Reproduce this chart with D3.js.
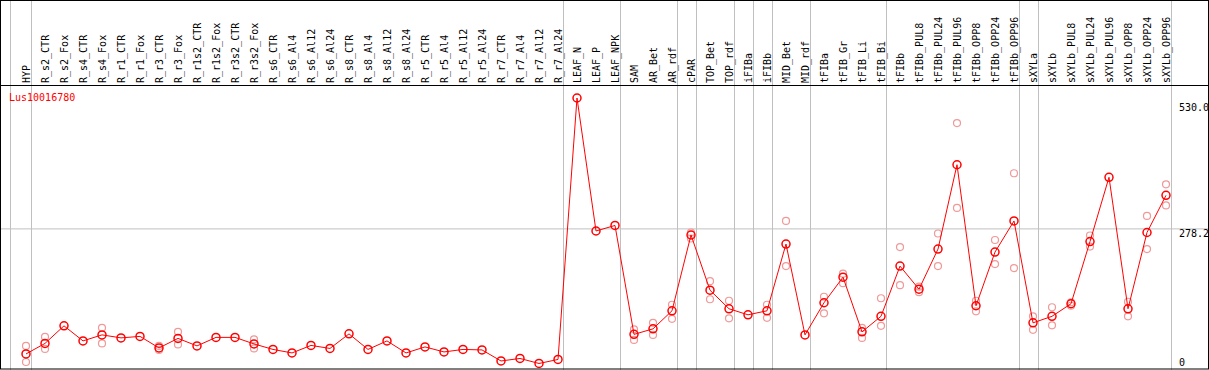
<!DOCTYPE html>
<html>
<head>
<meta charset="utf-8">
<script src="https://cdn.jsdelivr.net/npm/d3@7"></script>
<style>
  body { margin: 0; background: #fff; }
  text { font-family: "DejaVu Sans Mono", monospace; font-size: 10px; }
</style>
</head>
<body>
<script>
// sample names along the top
var categories = ["HYP","R_s2_CTR","R_s2_Fox","R_s4_CTR","R_s4_Fox","R_r1_CTR","R_r1_Fox","R_r3_CTR","R_r3_Fox",
  "R_r1s2_CTR","R_r1s2_Fox","R_r3s2_CTR","R_r3s2_Fox","R_s6_CTR","R_s6_Al4","R_s6_Al12","R_s6_Al24",
  "R_s8_CTR","R_s8_Al4","R_s8_Al12","R_s8_Al24","R_r5_CTR","R_r5_Al4","R_r5_Al12","R_r5_Al24",
  "R_r7_CTR","R_r7_Al4","R_r7_Al12","R_r7_Al24","LEAF_N","LEAF_P","LEAF_NPK","SAM","AR_Bet","AR_rdf",
  "cPAR","TOP_Bet","TOP_rdf","iFIBa","iFIBb","MID_Bet","MID_rdf","tFIBa","tFIB_Gr","tFIB_Li","tFIB_Bi",
  "tFIBb","tFIBb_PUL8","tFIBb_PUL24","tFIBb_PUL96","tFIBb_OPP8","tFIBb_OPP24","tFIBb_OPP96",
  "sXYLa","sXYLb","sXYLb_PUL8","sXYLb_PUL24","sXYLb_PUL96","sXYLb_OPP8","sXYLb_OPP24","sXYLb_OPP96"];

// mean expression
var means = [28,49,84,54,66,60,63,40,59,44,61,61,48,37,30,45,39,68,37,54,30,42,32,37,36,14,19,9,17,
  538,273,284,67,78,114,265,155,118,106,114,247,66,130,181,72,103,203,157,237,405,124,231,293,
  90,103,128,252,380,118,270,344];

// replicates (null = hidden behind mean)
var repA = [44,62,null,null,80,null,null,44,72,null,null,null,57,null,null,null,null,null,null,null,null,null,null,null,null,null,null,null,null,
  null,null,null,77,90,126,270,173,134,null,126,293,null,142,188,80,139,241,162,268,488,134,255,388,
  103,121,124,264,null,132,303,366];
var repB = [12,38,null,null,49,null,null,36,47,null,null,null,39,null,null,null,null,null,null,null,null,null,null,null,null,null,null,null,null,
  null,null,null,56,66,98,258,137,99,null,100,203,null,109,169,60,84,165,151,203,319,113,207,199,
  76,85,131,242,null,103,237,324];

var gridValue = 278.2;
var axisTicks = ["530.0","278.2","0"];
var tickValues = [530, 278.2, 0];
// vertical separators are drawn after these samples
var groupEnds = ["HYP","R_r7_Al24","LEAF_NPK","AR_rdf","cPAR","TOP_rdf","iFIBa","iFIBb","MID_rdf","tFIB_Bi","tFIBb_OPP96","sXYLa","sXYLb_OPP96"];

var width = 1209, height = 370, headerH = 85;

var svg = d3.select("body").append("svg")
    .attr("width", width)
    .attr("height", height);

var x = d3.scalePoint().domain(categories).range([26, 1166]);
var y = d3.scaleLinear().domain([0, 530]).range([368, 102]);

// gray grid
svg.append("line")
    .attr("x1", 1).attr("x2", width - 1)
    .attr("y1", y(gridValue) + 0.5).attr("y2", y(gridValue) + 0.5)
    .attr("stroke", "#c0c0c0");

var seps = [x(categories[0]) - 16].concat(groupEnds.map(function(c) { return x(c) + 5; }));
svg.selectAll("line.sep")
    .data(seps)
    .enter().append("line")
        .attr("class", "sep")
        .attr("x1", function(d) { return Math.round(d) + 0.5; })
        .attr("x2", function(d) { return Math.round(d) + 0.5; })
        .attr("y1", 0).attr("y2", height)
        .attr("stroke", "#c0c0c0");

// frame + header line
svg.append("rect")
    .attr("x", 0.5).attr("y", 0.5)
    .attr("width", width - 1).attr("height", height - 1.5)
    .attr("fill", "none").attr("stroke", "#000");
svg.append("line")
    .attr("x1", 0).attr("x2", width)
    .attr("y1", headerH + 0.5).attr("y2", headerH + 0.5)
    .attr("stroke", "#000");

// rotated sample labels
svg.selectAll("text.cat")
    .data(categories)
    .enter().append("text")
        .attr("class", "cat")
        .attr("transform", function(d) { return "translate(" + x(d) + ",83) rotate(-90)"; })
        .attr("dy", "0.35em")
        .text(function(d) { return d; });

// right axis labels
svg.selectAll("text.tick")
    .data(tickValues)
    .enter().append("text")
        .attr("class", "tick")
        .attr("x", 1179)
        .attr("y", function(d) { return Math.min(y(d) + 8.5, 366); })
        .text(function(d, i) { return axisTicks[i]; });

svg.append("text")
    .attr("x", 9).attr("y", 101)
    .attr("fill", "#ff0000")
    .text("Lus10016780");

// replicate circles
var reps = [];
categories.forEach(function(c, i) {
    if (repA[i] != null) reps.push({c: c, v: repA[i]});
    if (repB[i] != null) reps.push({c: c, v: repB[i]});
});
svg.selectAll("circle.rep")
    .data(reps)
    .enter().append("circle")
        .attr("class", "rep")
        .attr("cx", function(d) { return x(d.c); })
        .attr("cy", function(d) { return y(d.v); })
        .attr("r", 3.5)
        .attr("fill", "none")
        .attr("stroke", "#f09999")
        .attr("stroke-width", 1.2);

// mean line
var line = d3.line()
    .x(function(d, i) { return x(categories[i]); })
    .y(function(d) { return y(d); });
svg.append("path")
    .datum(means)
    .attr("d", line)
    .attr("fill", "none")
    .attr("stroke", "#ff0000")
    .attr("stroke-width", 1);

svg.selectAll("circle.mean")
    .data(means)
    .enter().append("circle")
        .attr("class", "mean")
        .attr("cx", function(d, i) { return x(categories[i]); })
        .attr("cy", function(d) { return y(d); })
        .attr("r", 4)
        .attr("fill", "none")
        .attr("stroke", "#ff0000")
        .attr("stroke-width", 1.5);
</script>
</body>
</html>
